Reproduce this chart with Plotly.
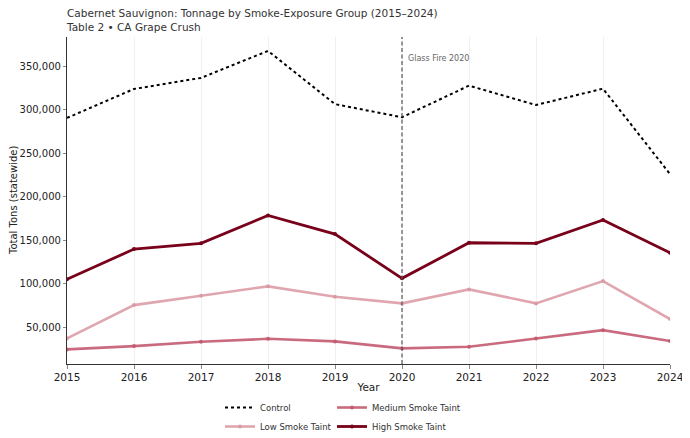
import plotly.graph_objects as go

years = [2015, 2016, 2017, 2018, 2019, 2020, 2021, 2022, 2023, 2024]
control = [290800, 324200, 336900, 368000, 306700, 291600, 328000, 305700, 324500, 226200]
low = [37000, 75300, 86100, 96900, 84900, 77300, 93400, 77300, 103000, 59200]
medium = [24300, 28100, 33100, 36500, 33500, 25500, 27300, 37000, 46500, 33900]
high = [105000, 139800, 146400, 178600, 157100, 106100, 147100, 146400, 173300, 135600]
event_year = 2020
event_label = "Glass Fire 2020"

FONT = "DejaVu Sans"
W, H = 682, 430
L, R, T, B = 59, 20, 29, 74
fig = go.Figure()
fig.add_trace(go.Scatter(x=years, y=control, name="Control", mode="lines", legend="legend",
                         line=dict(color="black", width=2, dash="dot")))
fig.add_trace(go.Scatter(x=years, y=low, name="Low Smoke Taint", mode="lines+markers", legend="legend",
                         line=dict(color="rgba(218,150,162,0.85)", width=2.6),
                         marker=dict(size=4, color="rgba(218,150,162,0.85)")))
fig.add_trace(go.Scatter(x=years, y=medium, name="Medium Smoke Taint", mode="lines+markers", legend="legend2",
                         line=dict(color="rgba(196,90,112,0.9)", width=2.6),
                         marker=dict(size=4, color="rgba(196,90,112,0.9)")))
fig.add_trace(go.Scatter(x=years, y=high, name="High Smoke Taint", mode="lines+markers", legend="legend2",
                         line=dict(color="#78001a", width=2.8),
                         marker=dict(size=4, color="#78001a")))

fig.add_shape(type="line", x0=event_year, x1=event_year, y0=0, y1=1, yref="paper",
              line=dict(color="#555555", width=1.2, dash="4px,2.5px"))
fig.add_annotation(x=event_year, y=0.955, yref="paper", text=event_label, showarrow=False,
                   xanchor="left", xshift=4, font=dict(family=FONT, size=8, color="#666666"))
# y-axis title
fig.add_annotation(x=(5.5 - L) / (W - L - R), xref="paper", y=0.5, yref="paper",
                   text="Total Tons (statewide)", textangle=-90, showarrow=False,
                   xanchor="center", yanchor="middle", font=dict(family=FONT, size=10, color="#222222"))

leg_common = dict(orientation="v", yref="container", xref="container", yanchor="top", xanchor="left",
                  y=1 - 385 / H, font=dict(family=FONT, size=8.5, color="#333333"),
                  bgcolor="rgba(0,0,0,0)", tracegroupgap=0)

fig.update_layout(
    width=W, height=H,
    margin=dict(l=L, r=R, t=T, b=B, autoexpand=False),
    paper_bgcolor="white", plot_bgcolor="white",
    font=dict(family=FONT, size=10.5, color="#222222"),
    title=dict(text="Cabernet Sauvignon: Tonnage by Smoke-Exposure Group (2015–2024)<br>Table 2 • CA Grape Crush",
               xref="container", yref="container", x=59 / W, xanchor="left", y=1 - 9 / H, yanchor="top",
               pad=dict(l=0, t=0), font=dict(family=FONT, size=10.5, color="#333333")),
    showlegend=True,
    legend=dict(x=212 / W, **leg_common),
    legend2=dict(x=324 / W, **leg_common),
    xaxis=dict(range=[2015, 2024], tickmode="array", tickvals=years, automargin=True,
               showgrid=True, gridcolor="rgba(0,0,0,0.06)", gridwidth=1,
               showline=True, linecolor="#333333", linewidth=1.2, ticks="outside", ticklen=3.5,
               tickcolor="#888888", zeroline=False, tickfont=dict(size=10.5), tickangle=0,
               title=dict(text="Year", standoff=1, font=dict(size=10.5))),
    yaxis=dict(range=[7500, 384000], tickmode="array", automargin=True,
               tickvals=[50000, 100000, 150000, 200000, 250000, 300000, 350000],
               tickformat=",", showgrid=False, showline=True, linecolor="#333333", linewidth=1.2,
               ticks="outside", ticklen=3, tickcolor="#888888", zeroline=False, tickfont=dict(size=10)),
)
fig.write_html("out.html")
